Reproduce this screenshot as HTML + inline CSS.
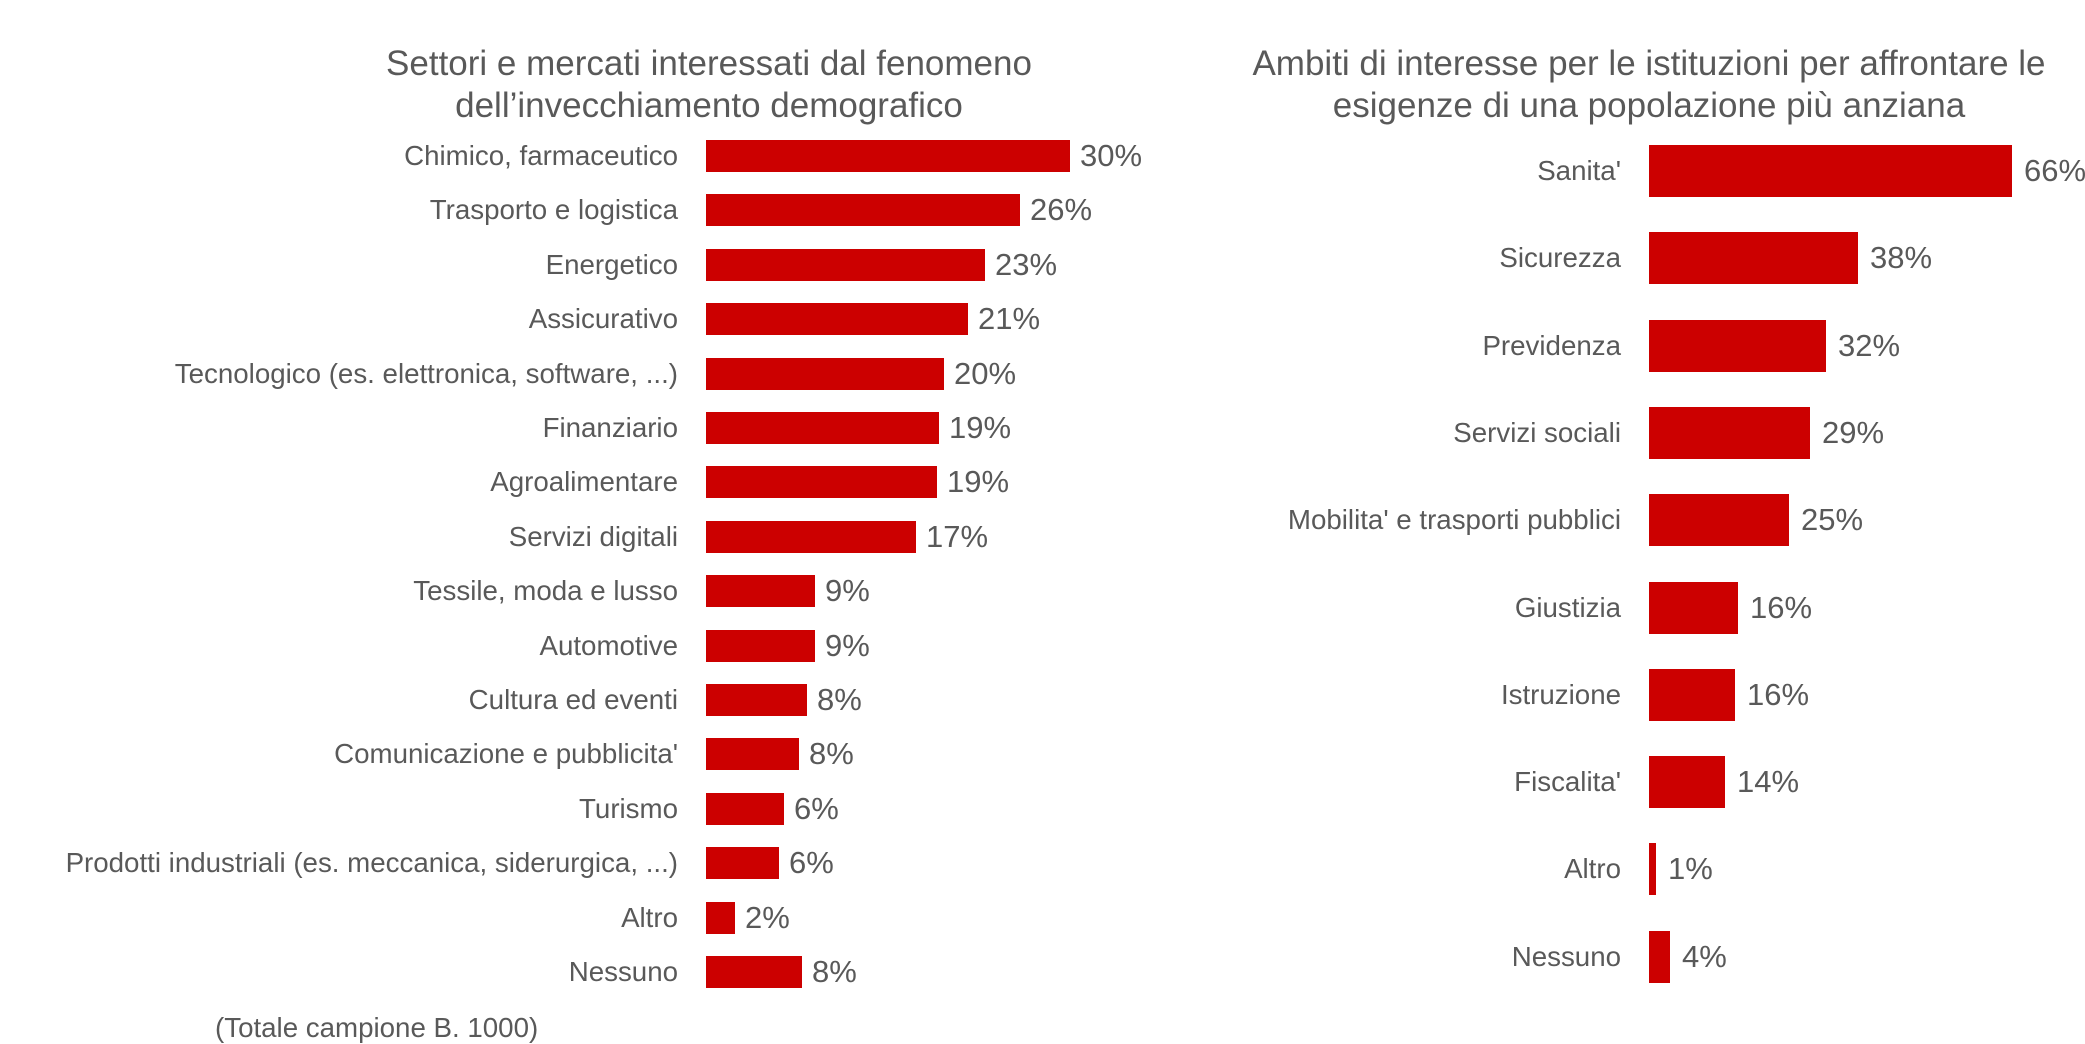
<!DOCTYPE html>
<html><head><meta charset="utf-8"><style>
body{margin:0;width:2085px;height:1044px;background:#fff;position:relative;overflow:hidden;font-family:"Liberation Sans",sans-serif;color:#595959}
.t{position:absolute;text-align:center;font-size:35px;line-height:42px;white-space:nowrap}
.l{position:absolute;text-align:right;font-size:27.7px;white-space:nowrap;line-height:32px}
.v{position:absolute;font-size:31px;white-space:nowrap;line-height:32px}
.b{position:absolute;background:#cc0000}
</style></head><body>
<div class="t" style="left:309px;width:800px;top:43px">Settori e mercati interessati dal fenomeno<br>dell’invecchiamento demografico</div>
<div class="t" style="left:1249px;width:800px;top:43px">Ambiti di interesse per le istituzioni per affrontare le<br>esigenze di una popolazione più anziana</div>
<div id="L"></div><div id="R"></div>
<div class="l" style="left:215px;top:1012px;text-align:left">(Totale campione B. 1000)</div>
<script>
var L=[["Chimico, farmaceutico",364,"30%"],["Trasporto e logistica",314,"26%"],["Energetico",279,"23%"],["Assicurativo",262,"21%"],["Tecnologico (es. elettronica, software, ...)",238,"20%"],["Finanziario",233,"19%"],["Agroalimentare",231,"19%"],["Servizi digitali",210,"17%"],["Tessile, moda e lusso",109,"9%"],["Automotive",109,"9%"],["Cultura ed eventi",101,"8%"],["Comunicazione e pubblicita'",93,"8%"],["Turismo",78,"6%"],["Prodotti industriali (es. meccanica, siderurgica, ...)",73,"6%"],["Altro",29,"2%"],["Nessuno",96,"8%"]];
var R=[["Sanita'",363,"66%"],["Sicurezza",209,"38%"],["Previdenza",177,"32%"],["Servizi sociali",161,"29%"],["Mobilita' e trasporti pubblici",140,"25%"],["Giustizia",89,"16%"],["Istruzione",86,"16%"],["Fiscalita'",76,"14%"],["Altro",7,"1%"],["Nessuno",21,"4%"]];
var h="";
L.forEach(function(d,i){var c=156+i*54.4;
h+='<div class="l" style="right:'+(2085-678)+'px;top:'+(c-16)+'px">'+d[0]+'</div>';
h+='<div class="b" style="left:706px;width:'+d[1]+'px;top:'+(c-16)+'px;height:32px"></div>';
h+='<div class="v" style="left:'+(706+d[1]+10)+'px;top:'+(c-16)+'px">'+d[2]+'</div>';});
R.forEach(function(d,i){var c=171+i*87.3;
h+='<div class="l" style="right:'+(2085-1621)+'px;top:'+(c-16)+'px">'+d[0]+'</div>';
h+='<div class="b" style="left:1649px;width:'+d[1]+'px;top:'+(c-26)+'px;height:52px"></div>';
h+='<div class="v" style="left:'+(1649+d[1]+12)+'px;top:'+(c-16)+'px">'+d[2]+'</div>';});
document.getElementById("L").innerHTML=h;
</script>
</body></html>
